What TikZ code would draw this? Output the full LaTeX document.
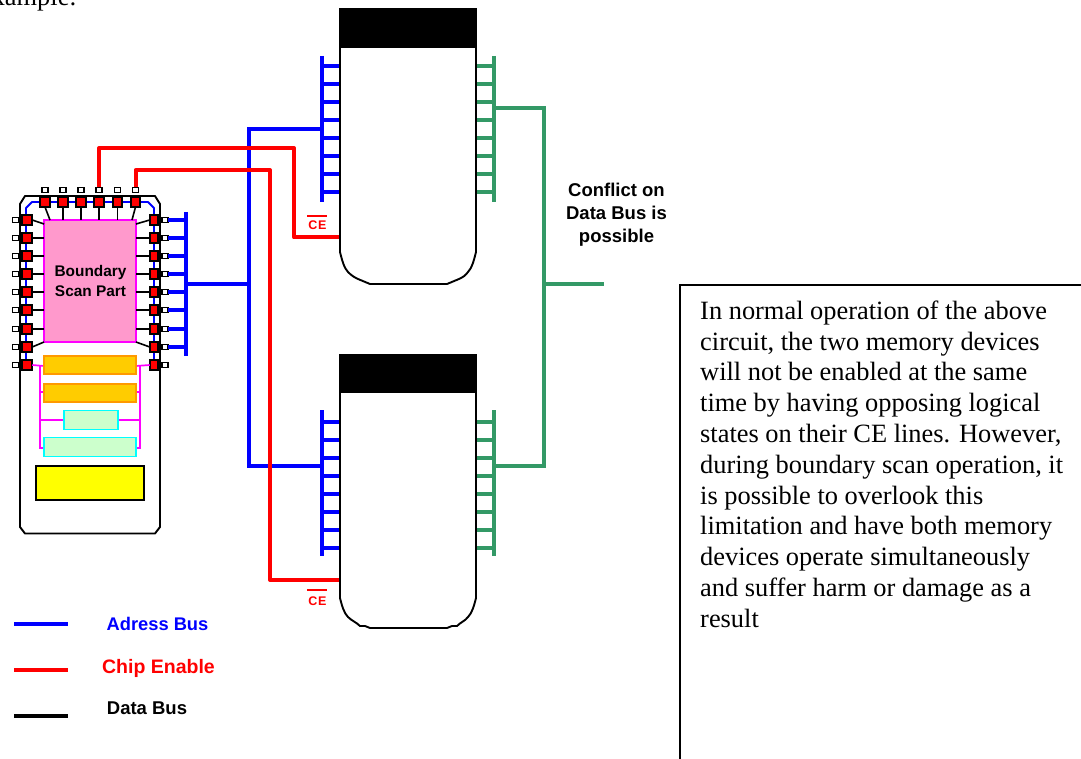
\documentclass[tikz,border=0pt]{standalone}
\usepackage{fontspec}
\setmainfont{Liberation Serif}
\newfontfamily\arialf{Liberation Sans}
\definecolor{gbus}{HTML}{339966}
\definecolor{ppink}{HTML}{FF99CC}
\definecolor{ofill}{HTML}{FFCC00}
\definecolor{oline}{HTML}{FF9900}
\definecolor{gfill}{HTML}{CCFFCC}
\definecolor{pmag}{HTML}{FF00FF}
\definecolor{pcyan}{HTML}{00FFFF}
\definecolor{pyellow}{HTML}{FFFF00}
\definecolor{pblue}{HTML}{0000FF}
\definecolor{pred}{HTML}{FF0000}
\tikzset{
  x=1pt,y=-1pt,
  outline/.style={draw=black,line width=1.9pt,line join=round},
  abus/.style={draw=pblue,line width=4pt},
  abusthin/.style={draw=pblue,line width=1.8pt,line join=round},
  dbus/.style={draw=gbus,line width=4pt},
  cebus/.style={draw=pred,line width=4pt,line join=round},
  lead/.style={draw=black,line width=1.6pt},
  mag/.style={draw=pmag,line width=1.7pt},
  redpad/.style={draw=black,fill=pred,line width=1.9pt,minimum width=10.5pt,minimum height=10pt,inner sep=0pt,outer sep=0pt},
  tinypad/.style={draw=black,fill=white,line width=1.7pt,minimum width=6pt,minimum height=5pt,inner sep=0pt,outer sep=0pt},
  corebox/.style={draw=pmag,fill=ppink,line width=1.7pt,inner sep=0pt,outer sep=0pt,text width=92pt,minimum height=122pt,align=center},
  orangebox/.style={draw=oline,fill=ofill,line width=1.7pt,inner sep=0pt,outer sep=0pt,minimum height=18pt},
  greenbox/.style={draw=pcyan,fill=gfill,line width=1.7pt,inner sep=0pt,outer sep=0pt,minimum height=19pt},
  yellowbox/.style={draw=black,fill=pyellow,line width=1.9pt,inner sep=0pt,outer sep=0pt,minimum width=108pt,minimum height=34pt},
  capbox/.style={fill=black,inner sep=0pt,outer sep=0pt,minimum width=138pt,minimum height=39pt},
  celabel/.style={font=\arialf\bfseries\fontsize{12.5}{13}\selectfont,text=pred,inner sep=0pt},
  lab/.style={font=\arialf\bfseries\fontsize{18.5}{23}\selectfont,inner sep=0pt,align=center},
  corelab/.style={font=\arialf\bfseries\fontsize{15.4}{20}\selectfont},
  para/.style={font=\fontsize{26.4}{30.8}\selectfont,inner sep=0pt,anchor=north west,align=left},
}
\begin{document}
\begin{tikzpicture}
\useasboundingbox (0,0) rectangle (1081,759);
\clip (0,0) rectangle (1081,759);
% page fragment
\node[font=\fontsize{26.4}{30}\selectfont,inner sep=0pt,anchor=base east] (frag) at (77,6) {example:};

% chip outline
\path[outline,fill=white] (20,204) -- (25,196) -- (155,196) -- (160,204) -- (160,527) -- (155,533.5) -- (25,533.5) -- (20,527) -- cycle;
% inner blue ring
\path[abusthin] (26,365) -- (26,208) -- (32,202) -- (148,202) -- (154,208) -- (154,365);

% core
\node[corebox] (core) at (90,281) {};
\node[corelab,align=center] (corelabel) at (90.5,280.5) {Boundary\\Scan Part};

% pads
\foreach \i/\yy in {0/220,1/238,2/256,3/274,4/292,5/310,6/329,7/347,8/365}{
  \node[tinypad] (lt\i) at (15.5,\yy) {};
  \node[redpad] (l\i) at (27,\yy) {};
  \node[tinypad] (rt\i) at (165,\yy) {};
  \node[redpad,minimum width=8.5pt] (r\i) at (154,\yy) {};
}
\foreach \i/\xx in {0/45,1/63,2/81,3/99,4/117.5,5/135.5}{
  \node[tinypad] (tt\i) at (\xx,190) {};
  \node[redpad,minimum width=9.5pt] (t\i) at (\xx,202) {};
}
% core leads
\foreach \i/\yy in {1/238,2/256,3/274,4/292,5/310,6/329}{
  \draw[lead] (l\i.east) -- (44,\yy);
  \draw[lead] (r\i.west) -- (136,\yy);
}
\draw[lead] (l0.east) -- (44,224);
\draw[lead] (r0.west) -- (136,224);
\draw[lead] (l7.east) -- (44,342);
\draw[lead] (r7.west) -- (136,342);
\draw[lead] (t0.south) -- (50,220);
\draw[lead] (t5.south) -- (132,220);
\foreach \i in {1,2,3,4}{ \draw[lead] (t\i.south) -- (t\i.south |- core.north); }

% register boxes
\coordinate (ml) at (40,366);
\coordinate (mr) at (140,366);
\draw[mag] (l8.east) -- (44,366);
\draw[mag] (136,366) -- (r8.west);
\draw[mag] (ml) -- (40,448) -- (44,448);
\draw[mag] (mr) -- (140,448) -- (136,448);
\draw[mag] (40,392) -- (44,392);
\draw[mag] (136,392) -- (140,392);
\draw[mag] (40,420) -- (64,420);
\draw[mag] (118,420) -- (140,420);
\node[orangebox,minimum width=92pt] (o1) at (90,365) {};
\node[orangebox,minimum width=92pt] (o2) at (90,393) {};
\node[greenbox,minimum width=54pt] (g1) at (91,420) {};
\node[greenbox,minimum width=92pt] (g2) at (90,447) {};
\node[yellowbox] (ybox) at (90,483) {};

% memory 1
\path[outline,fill=white] (340,47) -- (340,252) .. controls (342,260) and (344,268) .. (348,272) .. controls (352,276) and (354,277) .. (358,279) -- (370,284) -- (447,284) -- (459,279) .. controls (463,277) and (465,276) .. (468,272) .. controls (472,268) and (474,260) .. (476,252) -- (476,47) -- cycle;
\node[capbox] (cap1) at (408,27.5) {};
% memory 2
\path[outline,fill=white] (340,392) -- (340,598) .. controls (342,606) and (344,613) .. (348,617) .. controls (352,621) and (356,622) .. (360,626) -- (365,626) -- (370,628) -- (447,628) -- (452,626) -- (457,626) .. controls (461,622) and (465,621) .. (468,617) .. controls (472,613) and (474,606) .. (476,598) -- (476,392) -- cycle;
\node[capbox] (cap2) at (408,373) {};

% address rungs on chip
\foreach \i/\yy in {0/220,1/238,2/256,3/274,4/292,5/310,6/329,7/347}{
  \draw[abus] (rt\i.east) -- (186,\yy);
}
\draw[abus] (186,212) -- (186,356);
% address rungs on memories
\foreach \yy in {66,84,102,120,138,156,174,192}{
  \draw[abus] (322,\yy) -- (339,\yy);
  \draw[dbus] (477,\yy) -- (494,\yy);
}
\foreach \yy in {422,440,458,476,494,512,530,548}{
  \draw[abus] (322,\yy) -- (339,\yy);
  \draw[dbus] (477,\yy) -- (494,\yy);
}
\draw[abus] (322,56) -- (322,202);
\draw[dbus] (494,56) -- (494,202);
\draw[abus] (322,410) -- (322,556);
\draw[dbus] (494,410) -- (494,556);

% address trunk
\coordinate (ajoin) at (249,284);
\draw[abus] (186,284) -- (ajoin);
\draw[abus,line join=miter] (322,129.5) -- (249,129.5) -- (249,466) -- (322,466);
% data trunk
\coordinate (djoin) at (544,284);
\coordinate (dout) at (604,284);
\draw[dbus,line join=miter] (494,108) -- (544,108) -- (544,466) -- (494,466);
\draw[dbus] (djoin) -- (dout);

% chip enable
\draw[cebus] (tt3.north) -- (99,148) -- (294,148) -- (294,237.5) -- (339,237.5);
\draw[cebus] (tt5.north) -- (135.5,170) -- (270,170) -- (270,580) -- (339,580);
\node[celabel] (ce1) at (317.5,225) {C\kern0.8pt E};
\draw[pred,line width=1.6pt] (307,216) -- (327,216);
\node[celabel] (ce2) at (317.5,601.5) {C\kern0.8pt E};
\draw[pred,line width=1.6pt] (307,590) -- (327,590);

% legend
\coordinate (lega) at (14,624); \coordinate (legb) at (68,624);
\coordinate (legc) at (14,670); \coordinate (legd) at (68,670);
\coordinate (lege) at (14,716); \coordinate (legf) at (68,716);
\draw[abus] (lega) -- (legb);
\draw[cebus] (legc) -- (legd);
\draw[black,line width=4pt] (lege) -- (legf);
\node[lab,text=pblue,font=\arialf\bfseries\fontsize{18.3}{23}\selectfont] (ltxt1) at (157.5,624) {Adress Bus};
\node[lab,text=pred,font=\arialf\bfseries\fontsize{19.5}{23}\selectfont] (ltxt2) at (158.5,668) {Chip Enable};
\node[lab,text=black] (ltxt3) at (147,708) {Data Bus};

\node[lab] (conflict) at (616.5,215) {Conflict on\\Data Bus is\\possible};

% text frame
\draw[black,line width=1.5pt] (680,759) -- (680,285) -- (1081,285);
\node[para] (note) at (700,300.5) {In normal operation of the above\\circuit, the two memory devices\\will not be enabled at the same\\time by having opposing logical\\states on their CE lines. However,\\during boundary scan operation, it\\is possible to overlook this\\limitation and have both memory\\devices operate simultaneously\\and suffer harm or damage as a\\result};
\end{tikzpicture}
\end{document}
